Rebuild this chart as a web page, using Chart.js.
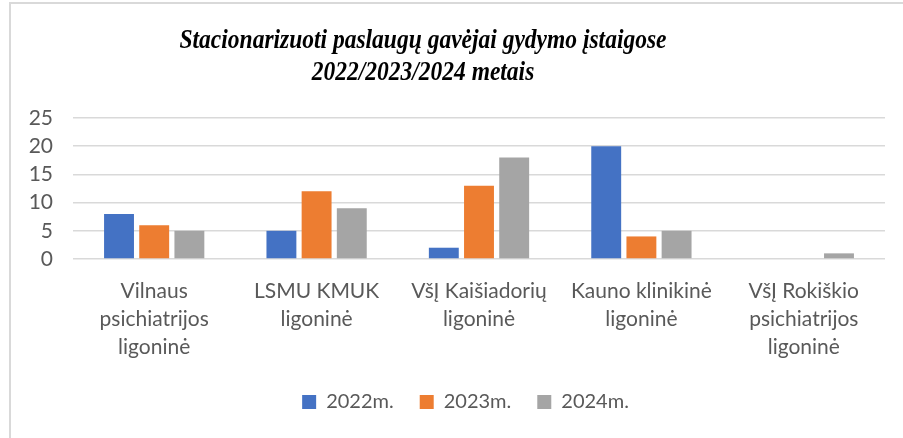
<!DOCTYPE html>
<html>
<head>
<meta charset="utf-8">
<script src="https://cdn.jsdelivr.net/npm/chart.js@4.4.0/dist/chart.umd.min.js"></script>
<style>
    html, body { margin: 0; padding: 0; background: #fff; overflow: hidden; }
    .frame { position: absolute; left: 9px; top: 2px; width: 1000px; height: 1000px; border: 2px solid #d9d9d9; }
    .wrap { position: absolute; left: 0; top: 0; width: 903px; height: 438px; }
</style>
</head>
<body>
<div class="frame"></div>
<div class="wrap"><canvas id="chart"></canvas></div>
<script>
// Chart data
const categories = [
    ['Vilnaus', 'psichiatrijos', 'ligoninė'],
    ['LSMU KMUK', 'ligoninė'],
    ['VšĮ Kaišiadorių', 'ligoninė'],
    ['Kauno klinikinė', 'ligoninė'],
    ['VšĮ Rokiškio', 'psichiatrijos', 'ligoninė']
];
const seriesNames = ['2022m.', '2023m.', '2024m.'];
const values2022 = [8, 5, 2, 20, 0];
const values2023 = [6, 12, 13, 4, 0];
const values2024 = [5, 9, 18, 5, 1];
const titleLines = ['Stacionarizuoti paslaugų gavėjai gydymo įstaigose', '2022/2023/2024 metais'];
const colors = ['#4472c4', '#ed7d31', '#a5a5a5'];

const labelFont = { family: 'Lato, Carlito, sans-serif', size: 21 };

// Title sits a bit left of the canvas centre and is a little tall, like in the original sheet
const offsetTitle = {
    id: 'offsetTitle',
    afterDraw: function (chart) {
        const c = chart.ctx;
        c.save();
        c.font = 'italic bold 23.5px "Liberation Serif", "Times New Roman", serif';
        c.fillStyle = '#000';
        c.textAlign = 'center';
        c.textBaseline = 'alphabetic';
        titleLines.forEach((line, i) => {
            c.save();
            c.translate(423, 48 + i * 32);
            c.scale(1, 1.13);
            c.fillText(line, 0, 0);
            c.restore();
        });
        c.restore();
    }
};

// Legend is centred a little right of the canvas centre in the original
const shiftLegend = {
    id: 'shiftLegend',
    afterLayout: function (chart) {
        chart.legend.left += 23;
        chart.legend.right += 23;
    }
};

const ctx = document.getElementById('chart').getContext('2d');
new Chart(ctx, {
    type: 'bar',
    data: {
        labels: categories,
        datasets: [values2022, values2023, values2024].map((vals, i) => ({
            label: seriesNames[i],
            data: vals,
            backgroundColor: colors[i],
            borderWidth: 0,
            categoryPercentage: 0.65,
            barPercentage: 0.85
        }))
    },
    options: {
        responsive: true,
        maintainAspectRatio: false,
        animation: false,
        layout: { padding: { left: 0, right: 18, top: 118, bottom: 16 } },
        scales: {
            x: {
                grid: { display: false },
                border: { display: false },
                ticks: { color: '#595959', font: { ...labelFont, lineHeight: 1.33 }, padding: 10, maxRotation: 0, autoSkip: false },
                afterFit: function (scale) { scale.height = 107; }
            },
            y: {
                min: 0,
                max: 25,
                ticks: { stepSize: 5, color: '#595959', font: labelFont, padding: 20 },
                grid: { color: '#d9d9d9', lineWidth: 1.5, drawTicks: false },
                border: { display: false },
                afterFit: function (scale) { scale.width = 73; }
            }
        },
        plugins: {
            legend: {
                position: 'bottom',
                labels: {
                    color: '#595959',
                    font: { ...labelFont, size: 20 },
                    boxWidth: 14,
                    boxHeight: 14,
                    padding: 26
                }
            },
            title: { display: false },
            tooltip: { enabled: false }
        }
    },
    plugins: [offsetTitle, shiftLegend]
});
</script>
</body>
</html>
